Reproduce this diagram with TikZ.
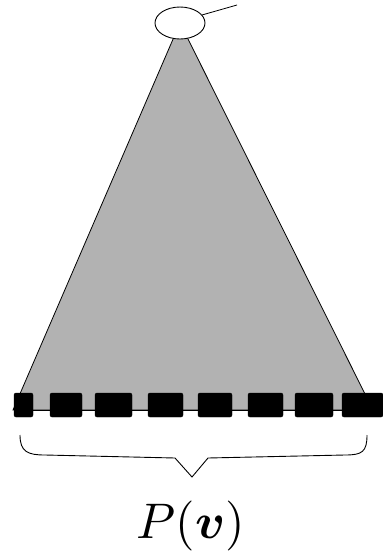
\documentclass[tikz,border=0pt]{standalone}
\usepackage{amsmath,amssymb,bm}
\usepackage{xcolor}
\usepackage{tikz}
\usetikzlibrary{shapes.geometric,arrows.meta,positioning,calc}

\begin{document}
\begin{tikzpicture}[x=1pt, y=-1pt,
  root/.style={draw, ellipse, fill=white, minimum width=50pt, minimum height=32pt, inner sep=0pt, line width=0.9pt},
  leaf/.style={draw, fill=black, rounded corners=2pt, minimum height=24pt, inner sep=0pt},
  subtree/.style={draw, line width=0.8pt, fill=black!30},
  lab/.style={scale=5}
]
\useasboundingbox (0,0) rectangle (383,555);

% Subtree below the root
\path[subtree] (180,23) -- (13,410) -- (373,410) -- cycle;

% Root
\node[root] (root) at (180,23) {};
\coordinate (up) at (237,5);
\draw[line width=0.8pt] (root.20) -- (up);

% Leaves
\foreach \i/\xa/\xb in {1/14/33, 2/50/82, 3/95/132, 4/148/183, 5/198/232, 6/248/283, 7/295/333, 8/342/383}
  \node[leaf, minimum width={\xb-\xa}] (leaf\i) at ({(\xa+\xb)/2},405) {};
\draw[line width=0.6pt] ([yshift=-5pt]leaf1.center) -- ([yshift=-5pt]leaf8.center);

% Brace over the leaves
\draw[line width=0.9pt] (20,435) .. controls (20,452) and (28,455) .. (45,455)
  -- (175,458) -- (192,477) -- (208,458) -- (345,455)
  .. controls (362,455) and (367,452) .. (367,435);

% Label
\node[lab] (pv) at (191,526) {$P(\bm{v})$};

\end{tikzpicture}
\end{document}
